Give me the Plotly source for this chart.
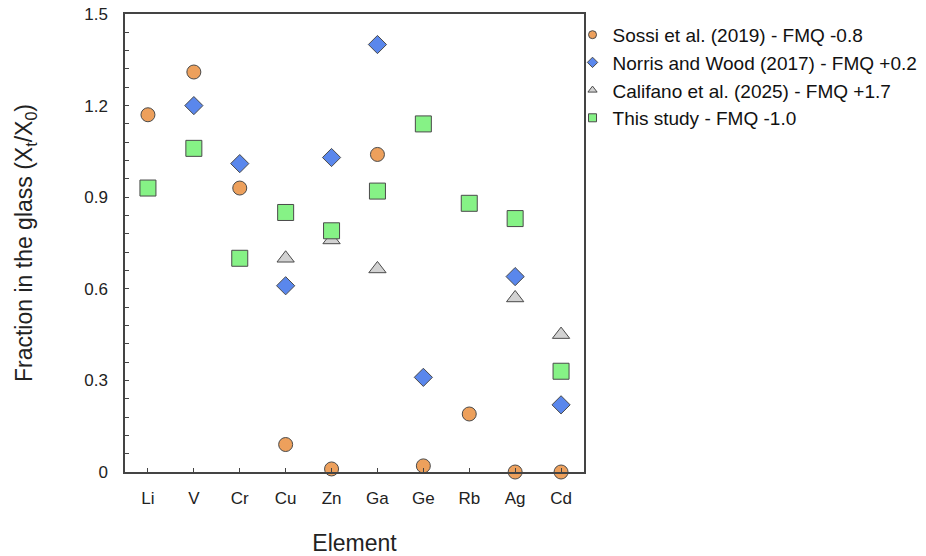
import plotly.graph_objects as go

elements = ["Li", "V", "Cr", "Cu", "Zn", "Ga", "Ge", "Rb", "Ag", "Cd"]

sossi = [1.17, 1.31, 0.93, 0.09, 0.01, 1.04, 0.02, 0.19, 0.0, 0.0]
norris = [None, 1.20, 1.01, 0.61, 1.03, 1.40, 0.31, None, 0.64, 0.22]
califano = [None, None, None, 0.70, 0.76, 0.665, None, None, 0.57, 0.45]
this_study = [0.93, 1.06, 0.70, 0.85, 0.79, 0.92, 1.14, 0.88, 0.83, 0.33]

y_tickvals = [0, 0.3, 0.6, 0.9, 1.2, 1.5]
y_ticktext = ["0", "0.3", "0.6", "0.9", "1.2", "1.5"]

names = [
    "Sossi et al. (2019) - FMQ -0.8",
    "Norris and Wood (2017) - FMQ +0.2",
    "Califano et al. (2025) - FMQ +1.7",
    "This study - FMQ -1.0",
]
series = [sossi, norris, califano, this_study]
symbols = ["circle", "diamond", "triangle-up", "square"]
colors = ["#EDA05C", "#5A87EC", "#D2D2D2", "#86F286"]
sizes = [14, 14, 15, 16]
legend_sizes = [8, 8, 8, 8]

FONT = "Liberation Sans, Arial, sans-serif"
fig = go.Figure()

for name, ys, sym, col, sz in zip(names, series, symbols, colors, sizes):
    fig.add_trace(go.Scatter(
        x=elements, y=ys, mode="markers", name=name, showlegend=False,
        marker=dict(symbol=sym, color=col, size=sz,
                    line=dict(color="#4a4a4a", width=1)),
        cliponaxis=False,
    ))

for i, (name, sym, col, lsz) in enumerate(zip(names, symbols, colors, legend_sizes)):
    fig.add_trace(go.Scatter(
        x=[None], y=[None], mode="markers", name=name, showlegend=True,
        legendgroup=f"g{i}",
        marker=dict(symbol=sym, color=col, size=lsz,
                    line=dict(color="#4a4a4a", width=1)),
    ))

fig.update_layout(
    width=926, height=556,
    margin=dict(l=125, r=342, t=14, b=84, autoexpand=False),
    paper_bgcolor="white", plot_bgcolor="white",
    font=dict(family=FONT, color="black"),
    showlegend=True,
    legend=dict(
        x=0.975, y=0.996, xanchor="left", yanchor="top",
        font=dict(size=19, family=FONT, color="#111"),
        bgcolor="rgba(0,0,0,0)", traceorder="grouped", tracegroupgap=0,
        itemwidth=30,
    ),
    xaxis=dict(
        type="category", categoryorder="array", categoryarray=elements,
        range=[-0.5, 9.5], automargin=False,
        showline=True, linecolor="#444", linewidth=1.5, mirror=True,
        ticks="inside", ticklen=4, tickcolor="#444",
        tickfont=dict(size=17, color="#222"), ticklabelstandoff=10,
        showgrid=False, zeroline=False,
        title=dict(text="Element", font=dict(size=23, color="#222"), standoff=28),
    ),
    yaxis=dict(
        range=[0, 1.5], tickmode="array", tickvals=y_tickvals, ticktext=y_ticktext,
        automargin=False, ticklabeloverflow="allow",
        showline=True, linecolor="#444", linewidth=1.5, mirror=True,
        ticks="inside", ticklen=4, tickcolor="#444",
        minor=dict(tick0=0, dtick=0.06, ticks="inside", ticklen=4, tickcolor="#444", showgrid=False),
        tickfont=dict(size=17, color="#222"), ticklabelstandoff=12,
        showgrid=False, zeroline=False,
        title=dict(text="Fraction in the glass (X<sub>t</sub>/X<sub>0</sub>)",
                   font=dict(size=23, color="#222"), standoff=45),
    ),
)

# remove the default 8px page margin so the figure fills the window exactly
fig.write_html(
    "out.html",
    config={"displayModeBar": False},
    post_script="document.body.style.margin='0';document.body.style.overflow='hidden';",
)
